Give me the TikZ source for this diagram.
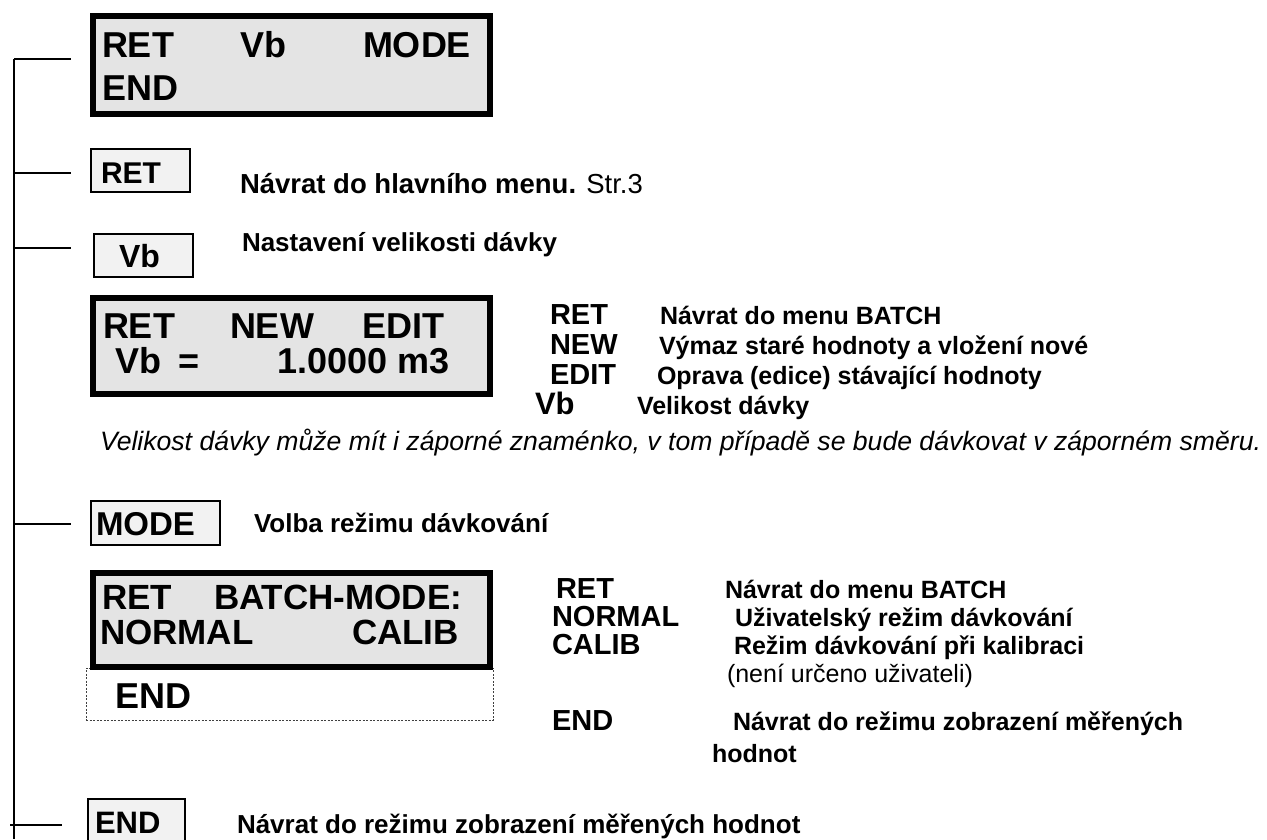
\documentclass[tikz,border=0pt]{standalone}
\usepackage{fontspec}
\setmainfont{Liberation Sans}
\newcommand\fsz[1]{\fontsize{#1}{#1}\selectfont}
\definecolor{lcdgray}{HTML}{E4E4E4}
\definecolor{keygray}{HTML}{F2F2F2}
\tikzset{
 lcd/.style={draw=black, line width=6pt, fill=lcdgray, inner sep=0pt, outer sep=0pt, anchor=north west},
 keybox/.style={draw=black, line width=1.5pt, fill=keygray, inner sep=0pt, outer sep=0pt, anchor=north west},
 endbox/.style={draw=black!75, line width=0.8pt, dash pattern=on 2pt off 1.5pt, inner sep=0pt, outer sep=0pt, anchor=north west},
 tx/.style={anchor=base west, inner sep=0pt, outer sep=0pt},
 lcdtxt/.style={tx, font=\fsz{36}\bfseries},
 keytxt/.style={tx, font=\fsz{32}\bfseries},
 lbl/.style={tx, font=\fsz{29}\bfseries},
 desc/.style={tx, font=\fsz{25}\bfseries},
 ldesc/.style={tx, font=\fsz{26}\bfseries},
 note/.style={tx, font=\fsz{26.6}\itshape},
 wire/.style={line width=1.5pt},
}
\begin{document}
\begin{tikzpicture}[x=1pt,y=-1pt]
\useasboundingbox (0,0) rectangle (1267,839);

% ---- trunk and ticks
\coordinate (trT) at (14,59);
\coordinate (trB) at (14,839);
\draw[wire] (trT) -- (trB);
\coordinate (t1) at (14,59);  \coordinate (t1e) at (71,59);
\coordinate (t2) at (14,173); \coordinate (t2e) at (71,173);
\coordinate (t3) at (14,248); \coordinate (t3e) at (71,248);
\coordinate (t4) at (14,524); \coordinate (t4e) at (71,524);
\coordinate (t5) at (10,825); \coordinate (t5e) at (62,825);
\draw[wire] (t1) -- (t1e);
\draw[wire] (t2) -- (t2e);
\draw[wire] (t3) -- (t3e);
\draw[wire] (t4) -- (t4e);
\draw[wire] (t5) -- (t5e);

% ---- top LCD
\node[lcd, minimum width=397pt, minimum height=98pt] (lcdA) at (93,16) {};
\node[lcdtxt] (a1) at (102,57) {RET};
\node[lcdtxt] (a2) at (240,57) {Vb};
\node[lcdtxt] (a3) at (363,57) {MODE};
\node[lcdtxt] (a4) at (102,100) {END};

% ---- RET key
\node[keybox, minimum width=99pt, minimum height=43pt] (kRet) at (90.75,148.75) {};
\node[keytxt, font=\fsz{30}\bfseries] (kRetT) at (101,183) {RET};
\node[ldesc, font=\fsz{27.5}\bfseries] (dRet) at (240,193) {Návrat do hlavního menu. {\mdseries Str.3}};

% ---- Vb key
\node[keybox, minimum width=99pt, minimum height=43pt] (kVb) at (93.75,233.75) {};
\node[keytxt] (kVbT) at (119,267) {Vb};
\node[ldesc] (dVb) at (242,251) {Nastavení velikosti dávky};

% ---- LCD B
\node[lcd, minimum width=397pt, minimum height=96pt] (lcdB) at (93,298) {};
\node[lcdtxt] (b1) at (103,338) {RET};
\node[lcdtxt] (b2) at (230,338) {NEW};
\node[lcdtxt] (b3) at (362,338) {EDIT};
\node[lcdtxt] (b4) at (115,373) {Vb};
\node[lcdtxt] (b4e) at (178,373) {=};
\node[lcdtxt] (b5) at (277,373) {1.0000 m3};

\node[lbl] (lb1) at (550,324) {RET};
\node[lbl] (lb2) at (550,354) {NEW};
\node[lbl] (lb3) at (550,384) {EDIT};
\node[lbl, font=\fsz{31}\bfseries] (lb4) at (535,414) {Vb};
\node[desc] (db1) at (660,324) {Návrat do menu BATCH};
\node[desc] (db2) at (659,354) {Výmaz staré hodnoty a vložení nové};
\node[desc] (db3) at (657,384) {Oprava (edice) stávající hodnoty};
\node[desc] (db4) at (637,414) {Velikost dávky};
\node[note] (nVb) at (100,450) {Velikost dávky může mít i záporné znaménko, v~tom případě se bude dávkovat v~záporném směru.};

% ---- MODE key
\node[keybox, minimum width=129pt, minimum height=44pt] (kMode) at (90.75,500.75) {};
\node[keytxt, font=\fsz{33}\bfseries] (kModeT) at (96,535) {MODE};
\node[ldesc] (dMode) at (254,532) {Volba režimu dávkování};

% ---- LCD C
\node[endbox, minimum width=407pt, minimum height=52pt] (endC) at (86,668) {};
\node[lcd, minimum width=397pt, minimum height=94pt] (lcdC) at (93,573) {};
\node[lcdtxt, font=\fsz{35}\bfseries] (c1) at (102,609) {RET};
\node[lcdtxt, font=\fsz{35}\bfseries] (c2) at (214,609) {BATCH-MODE:};
\node[lcdtxt, font=\fsz{35}\bfseries] (c3) at (100,644) {NORMAL};
\node[lcdtxt, font=\fsz{35}\bfseries] (c4) at (352,644) {CALIB};
\node[lcdtxt] (c5) at (115,708) {END};

\node[lbl] (lc1) at (556,598) {RET};
\node[lbl] (lc2) at (552,626) {NORMAL};
\node[lbl] (lc3) at (552,654) {CALIB};
\node[lbl] (lc4) at (552,730) {END};
\node[desc] (dc1) at (725,598) {Návrat do menu BATCH};
\node[desc] (dc2) at (735,626) {Uživatelský režim dávkování};
\node[desc] (dc3) at (734,654) {Režim dávkování při kalibraci};
\node[tx, font=\fsz{25}] (dc3b) at (727,682) {(není určeno uživateli)};
\node[desc] (dc4) at (733,730) {Návrat do režimu zobrazení měřených};
\node[desc] (dc4b) at (712,762) {hodnot};

% ---- END key (bottom)
\node[keybox, minimum width=97pt, minimum height=46pt] (kEnd) at (87.75,798.75) {};
\node[keytxt, font=\fsz{31}\bfseries] (kEndT) at (95,833) {END};
\node[ldesc] (dEnd) at (237,833) {Návrat do režimu zobrazení měřených hodnot};
\end{tikzpicture}
\end{document}
